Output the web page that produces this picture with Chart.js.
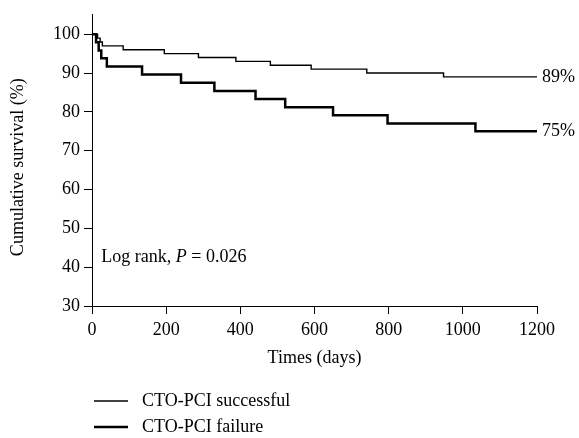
<!DOCTYPE html>
<html>
<head>
<meta charset="utf-8">
<script src="https://cdn.jsdelivr.net/npm/chart.js@4/dist/chart.umd.min.js"></script>
<style>
  html, body { margin: 0; padding: 0; background: #fff; }
  #wrap { width: 579px; height: 438px; position: relative; }
</style>
</head>
<body>
<div id="wrap"><canvas id="km"></canvas></div>
<script>
// Kaplan-Meier steps (days, cumulative survival %)
var successTimes = [0, 15, 22, 28, 84, 195, 287, 388, 481, 591, 741, 948, 1200];
var successSurv = [100, 99, 98, 97, 96, 95, 94, 93, 92, 91, 90, 89, 89];

var failureTimes = [0, 11, 18, 25, 40, 135, 240, 330, 441, 521, 650, 797, 1034, 1200];
var failureSurv = [100, 97.9, 95.8, 93.8, 91.7, 89.6, 87.5, 85.4, 83.3, 81.2, 79.1, 77.0, 75.0, 75.0];

var seriesNames = ["CTO-PCI successful", "CTO-PCI failure"];
var xTicks = [0, 200, 400, 600, 800, 1000, 1200];
var yTicks = [30, 40, 50, 60, 70, 80, 90, 100];
var logRankText = "0.026";

var FONT = "Liberation Serif, Times New Roman, serif";
var SIZE = 18;

function toPoints(xs, ys) {
  return xs.map(function (x, i) { return { x: x, y: ys[i] }; });
}

// end labels, log rank note and the stacked legend
var annotate = {
  id: "annotate",
  afterDatasetsDraw: function (chart) {
    var ctx = chart.ctx;
    var xs = chart.scales.x, ys = chart.scales.y;
    ctx.save();
    ctx.fillStyle = "#000";
    ctx.font = SIZE + "px " + FONT;
    ctx.textBaseline = "middle";
    ctx.textAlign = "left";

    // percentage at the end of each curve
    chart.data.datasets.forEach(function (ds) {
      var last = ds.data[ds.data.length - 1];
      ctx.fillText(Math.round(last.y) + "%", xs.getPixelForValue(last.x) + 5, ys.getPixelForValue(last.y));
    });

    // Log rank, P = ...
    var lx = xs.getPixelForValue(25), ly = ys.getPixelForValue(42.6);
    var part1 = "Log rank, ";
    ctx.fillText(part1, lx, ly);
    lx += ctx.measureText(part1).width;
    ctx.font = "italic " + SIZE + "px " + FONT;
    ctx.fillText("P", lx, ly);
    lx += ctx.measureText("P").width;
    ctx.font = SIZE + "px " + FONT;
    ctx.fillText(" = " + logRankText, lx, ly);

    // legend, one row per dataset
    chart.data.datasets.forEach(function (ds, i) {
      var y = 401 + i * 26;
      ctx.beginPath();
      ctx.lineWidth = ds.borderWidth;
      ctx.strokeStyle = "#000";
      ctx.moveTo(94, y);
      ctx.lineTo(128, y);
      ctx.stroke();
      ctx.fillText(ds.label, 142, y);
    });
    ctx.restore();
  }
};

var chart = new Chart(document.getElementById("km"), {
  type: "line",
  data: {
    datasets: [
      {
        label: seriesNames[0],
        data: toPoints(successTimes, successSurv),
        borderColor: "#000",
        borderWidth: 1.4,
        stepped: "before",
        pointRadius: 0,
        fill: false
      },
      {
        label: seriesNames[1],
        data: toPoints(failureTimes, failureSurv),
        borderColor: "#000",
        borderWidth: 2.5,
        stepped: "before",
        pointRadius: 0,
        fill: false
      }
    ]
  },
  options: {
    responsive: true,
    maintainAspectRatio: false,
    animation: false,
    layout: { padding: { top: 10, right: 42, bottom: 62, left: 0 } },
    plugins: {
      legend: { display: false },
      tooltip: { enabled: false }
    },
    scales: {
      x: {
        type: "linear",
        min: 0,
        max: 1200,
        afterBuildTicks: function (scale) {
          scale.ticks = xTicks.map(function (v) { return { value: v }; });
        },
        afterFit: function (scale) { scale.height = 70; },
        border: { color: "#000", width: 1 },
        grid: { drawOnChartArea: false, tickLength: 8, color: "#000", tickColor: "#000" },
        ticks: {
          color: "#000",
          font: { family: FONT, size: SIZE },
          padding: 5,
          maxRotation: 0,
          callback: function (v) { return String(v); }
        },
        title: {
          display: true,
          text: "Times (days)",
          color: "#000",
          font: { family: FONT, size: SIZE },
          padding: { top: 0, bottom: 7 }
        }
      },
      y: {
        min: 30,
        max: 105,
        afterBuildTicks: function (scale) {
          scale.ticks = yTicks.map(function (v) { return { value: v }; });
        },
        afterFit: function (scale) { scale.width = 92; },
        border: { color: "#000", width: 1 },
        grid: { drawOnChartArea: false, tickLength: 8, color: "#000", tickColor: "#000" },
        ticks: { color: "#000", font: { family: FONT, size: SIZE }, padding: 4 },
        title: {
          display: true,
          text: "Cumulative survival (%)   ",
          color: "#000",
          font: { family: FONT, size: SIZE },
          padding: { top: 7, bottom: 0 }
        }
      }
    }
  },
  plugins: [annotate]
});
</script>
</body>
</html>
